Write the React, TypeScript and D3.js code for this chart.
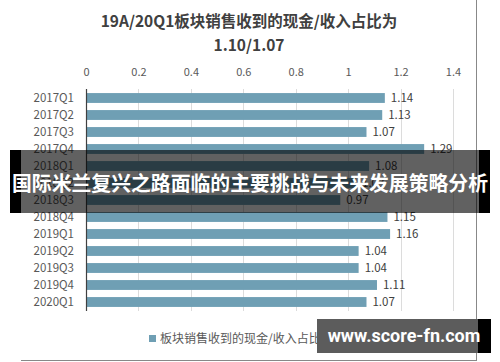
import React, { useRef, useEffect } from 'react';
import * as d3 from 'd3';

const categories = ['2017Q1', '2017Q2', '2017Q3', '2017Q4', '2018Q1', '2018Q2', '2018Q3', '2018Q4', '2019Q1', '2019Q2', '2019Q3', '2019Q4', '2020Q1'];
const values = [1.14, 1.13, 1.07, 1.29, 1.08, 1.03, 0.97, 1.15, 1.16, 1.04, 1.04, 1.11, 1.07];
const xTicks = [0, 0.2, 0.4, 0.6, 0.8, 1, 1.2, 1.4];
const seriesName = '板块销售收到的现金/收入占比';
const titleLines = ['19A/20Q1板块销售收到的现金/收入占比为', '1.10/1.07'];
const bannerText = '国际米兰复兴之路面临的主要挑战与未来发展策略分析';
const watermark = 'www.score-fn.com';

const W = 500;
const H = 362;
const FONT = '"Noto Sans CJK SC", "Noto Sans", sans-serif';

const drawChart = (svg: d3.Selection<SVGSVGElement, unknown, null, undefined>): void => {
    svg.selectAll('*').remove();

    // frame
    svg.append('rect').attr('width', W).attr('height', H).attr('fill', '#fff');
    svg.append('line').attr('x1', 476.5).attr('x2', 476.5).attr('y1', 0).attr('y2', 360)
        .attr('stroke', '#888').attr('stroke-width', 1);
    svg.append('line').attr('x1', 21).attr('x2', 477).attr('y1', 360.5).attr('y2', 360.5)
        .attr('stroke', '#888').attr('stroke-width', 1);

    // title
    svg.append('g').selectAll('text').data(titleLines).enter().append('text')
        .attr('x', 249).attr('y', (_, i) => 27 + i * 24)
        .attr('text-anchor', 'middle')
        .attr('font-family', FONT).attr('font-size', 15.5).attr('font-weight', 'bold')
        .attr('fill', '#404040')
        .text(d => d);

    const x = d3.scaleLinear().domain([0, 1.4]).range([86, 453]);
    const y = d3.scaleBand().domain(categories).range([89.5, 310.5]).paddingInner(0.42).paddingOuter(0.21);

    // grid
    svg.append('g').selectAll('line').data(xTicks.slice(1)).enter().append('line')
        .attr('x1', d => Math.round(x(d)) + 0.5).attr('x2', d => Math.round(x(d)) + 0.5)
        .attr('y1', 89).attr('y2', 311)
        .attr('stroke', '#dcdcdc').attr('stroke-width', 1);

    // top axis labels
    const axis = svg.append('g').attr('transform', 'translate(0,76)')
        .call(d3.axisTop(x).tickValues(xTicks).tickSize(0).tickPadding(0).tickFormat(d => String(d)));
    axis.select('.domain').remove();
    axis.selectAll('text')
        .attr('font-family', FONT).attr('font-size', 11).attr('fill', '#595959').attr('dy', '0');

    // bars
    svg.append('g').selectAll('rect').data(values).enter().append('rect')
        .attr('x', x(0))
        .attr('y', (_, i) => y(categories[i])!)
        .attr('width', d => x(d) - x(0))
        .attr('height', y.bandwidth())
        .attr('fill', '#6f9fb4');

    // value labels
    svg.append('g').selectAll('text').data(values).enter().append('text')
        .attr('x', d => x(d) + 6)
        .attr('y', (_, i) => y(categories[i])! + y.bandwidth() / 2 + 4)
        .attr('font-family', FONT).attr('font-size', 11.5).attr('fill', '#404040')
        .text(d => d.toFixed(2));

    // category axis
    svg.append('line').attr('x1', 86.5).attr('x2', 86.5).attr('y1', 89).attr('y2', 311)
        .attr('stroke', '#404040').attr('stroke-width', 1.2);
    svg.append('g').selectAll('text').data(categories).enter().append('text')
        .attr('x', 74)
        .attr('y', d => y(d)! + y.bandwidth() / 2 + 4)
        .attr('text-anchor', 'end')
        .attr('font-family', FONT).attr('font-size', 11.5).attr('fill', '#595959')
        .text(d => d);

    // legend
    svg.append('rect').attr('x', 149).attr('y', 335).attr('width', 7).attr('height', 7).attr('fill', '#6f9fb4');
    svg.append('text').attr('x', 160).attr('y', 343)
        .attr('font-family', FONT).attr('font-size', 12).attr('fill', '#595959')
        .text(seriesName);

    // banner overlay (semi-transparent middle, opaque black ends)
    svg.append('rect').attr('x', 10).attr('y', 150).attr('width', 11).attr('height', 63).attr('fill', '#000');
    svg.append('rect').attr('x', 479).attr('y', 150).attr('width', 11).attr('height', 63).attr('fill', '#000');
    svg.append('rect').attr('x', 21).attr('y', 150).attr('width', 458).attr('height', 63)
        .attr('fill', '#000').attr('opacity', 0.62);
    svg.append('text').attr('x', 250).attr('y', 191)
        .attr('text-anchor', 'middle')
        .attr('font-family', FONT).attr('font-size', 20).attr('font-weight', 'bold')
        .attr('fill', '#fff')
        .attr('textLength', 476).attr('lengthAdjust', 'spacingAndGlyphs')
        .text(bannerText);

    // watermark
    svg.append('rect').attr('x', 317).attr('y', 319).attr('width', 174).attr('height', 34).attr('fill', '#000');
    svg.append('rect').attr('x', 317).attr('y', 319).attr('width', 161).attr('height', 34).attr('fill', '#5c5c5c');
    svg.append('text').attr('x', 404).attr('y', 342)
        .attr('text-anchor', 'middle')
        .attr('font-family', 'Roboto, "Noto Sans", sans-serif').attr('font-size', 18).attr('font-weight', 'bold')
        .attr('fill', '#fff')
        .text(watermark);
};

const App: React.FC = () => {
    const ref = useRef<SVGSVGElement>(null);

    useEffect(() => {
        if (ref.current) {
            drawChart(d3.select(ref.current));
        }
    }, []);

    return (
        <svg
            ref={ref}
            width={W}
            height={H}
            style={{ position: 'absolute', left: 0, top: 0, display: 'block' }}
        />
    );
};

export default App;
